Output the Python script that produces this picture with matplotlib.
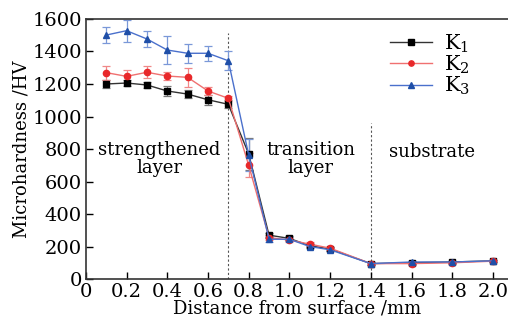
import matplotlib.pyplot as plt
import numpy as np

plt.rcParams['font.family'] = ['DejaVu Serif']
plt.rcParams['mathtext.fontset'] = 'dejavuserif'

# data
depth = [0.1, 0.2, 0.3, 0.4, 0.5, 0.6, 0.7, 0.8, 0.9, 1.0, 1.1, 1.2, 1.4, 1.6, 1.8, 2.0]
k1 = [1200, 1206, 1194, 1157, 1138, 1103, 1075, 770, 270, 250, 205, 185, 95, 100, 105, 112]
k1_err = [25, 20, 20, 30, 25, 30, 25, 100, 15, 12, 10, 10, 8, 8, 8, 8]
k2 = [1270, 1247, 1272, 1249, 1241, 1157, 1112, 700, 255, 240, 215, 190, 95, 95, 100, 110]
k2_err = [43, 41, 37, 22, 60, 25, 15, 75, 15, 12, 10, 10, 8, 8, 8, 8]
k3 = [1501, 1528, 1477, 1409, 1389, 1389, 1343, 763, 245, 245, 200, 180, 95, 105, 105, 112]
k3_err = [48, 68, 50, 85, 60, 47, 57, 100, 15, 12, 10, 10, 8, 8, 8, 8]

fig = plt.figure(figsize=(5.08, 3.33), dpi=100)
ax = fig.add_axes([0.169, 0.162, 0.831, 0.781])

# series: (values, errors, label, marker, marker colour, line colour, error colour)
series = [
    (k1, k1_err, r'K$_1$', 's', '#000000', '#333333', '#777777'),
    (k2, k2_err, r'K$_2$', 'o', '#e8282a', '#f07070', '#f08888'),
    (k3, k3_err, r'K$_3$', '^', '#1f4fa8', '#4a70cc', '#7a98d8'),
]
for vals, err, lab, mk, mc, lc, ec in series:
    ax.errorbar(depth, vals, yerr=err, fmt='none', ecolor=ec, elinewidth=0.9,
                capsize=3, capthick=0.9, zorder=2)
    ax.plot(depth, vals, color=lc, lw=1.0, marker=mk, markersize=4.5,
            markerfacecolor=mc, markeredgecolor=mc, label=lab, zorder=3)

# layer boundaries
ax.plot([0.7, 0.7], [0, 1515], ls=(0, (2, 2)), color='#555555', lw=0.8, zorder=1)
ax.plot([1.4, 1.4], [0, 960], ls=(0, (2, 2)), color='#555555', lw=0.8, zorder=1)

ax.text(0.36, 738, 'strengthened\nlayer', ha='center', va='center', fontsize=13,
        linespacing=0.95)
ax.text(1.105, 738, 'transition\nlayer', ha='center', va='center', fontsize=13,
        linespacing=0.95)
ax.text(1.70, 780, 'substrate', ha='center', va='center', fontsize=13)

ax.set_xlim(0, 2.074)
ax.set_ylim(0, 1600)
ax.set_xticks(np.arange(0, 2.01, 0.2))
ax.set_xticklabels(['0', '0.2', '0.4', '0.6', '0.8', '1.0', '1.2', '1.4', '1.6', '1.8', '2.0'])
ax.set_yticks(np.arange(0, 1601, 200))
ax.tick_params(direction='in', length=5, width=1, labelsize=14, pad=3)
ax.set_xlabel('Distance from surface /mm', fontsize=13, labelpad=-1)
ax.set_ylabel('Microhardness /HV', fontsize=13, labelpad=1)

ax.spines['right'].set_visible(False)
for s in ['left', 'bottom', 'top']:
    ax.spines[s].set_linewidth(1.2)
    ax.spines[s].set_color('#333333')

leg = ax.legend(loc='upper right', bbox_to_anchor=(0.955, 1.02), frameon=False,
                fontsize=15, handlelength=2.0, labelspacing=-0.05, handletextpad=0.6,
                markerscale=0.85)

fig.savefig('out.png', dpi=100)
